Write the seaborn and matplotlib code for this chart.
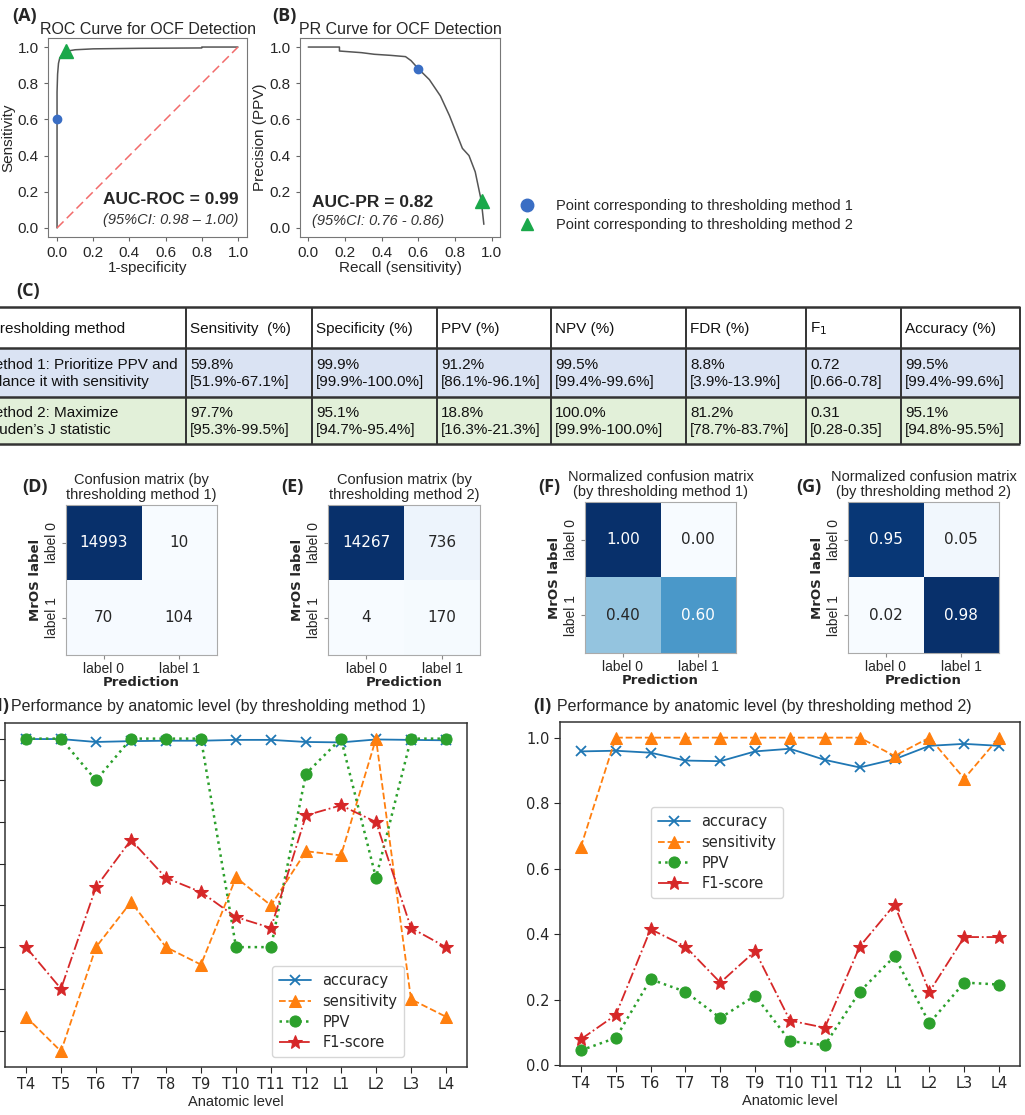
import numpy as np
import pandas as pd
import matplotlib
matplotlib.use('Agg')
import matplotlib.pyplot as plt
from matplotlib.lines import Line2D
from matplotlib.patches import Rectangle
import seaborn as sns

sns.set_style('ticks')
plt.rcParams['font.family'] = ['Liberation Sans', 'DejaVu Sans']

# ---- data ----
roc_fpr = [0.0, 0.0, 0.0, 0.003, 0.008, 0.015, 0.03, 0.05, 0.07, 0.1, 0.2, 0.45, 0.8, 0.8, 1.0]
roc_tpr = [0.0, 0.6, 0.75, 0.85, 0.91, 0.94, 0.96, 0.972, 0.98, 0.985, 0.99, 0.993, 0.995, 1.0, 1.0]
chance = [0.0, 1.0]
roc_pt1 = (0.0, 0.6)
roc_pt2 = (0.049, 0.977)

pr_recall = [0.0, 0.17, 0.17, 0.29, 0.36, 0.45, 0.53, 0.56, 0.60, 0.66, 0.72, 0.77, 0.805,
             0.84, 0.876, 0.91, 0.943, 0.957]
pr_prec = [1.0, 1.0, 0.978, 0.969, 0.96, 0.954, 0.947, 0.925, 0.88, 0.82, 0.73, 0.62, 0.53,
           0.44, 0.40, 0.31, 0.15, 0.02]
pr_pt1 = (0.60, 0.88)
pr_pt2 = (0.945, 0.15)

tab_header = ['Thresholding method', 'Sensitivity  (%)', 'Specificity (%)', 'PPV (%)',
              'NPV (%)', 'FDR (%)', 'F$_1$', 'Accuracy (%)']
tab_method1 = ['Method 1: Prioritize PPV and\nbalance it with sensitivity',
               '59.8%\n[51.9%-67.1%]', '99.9%\n[99.9%-100.0%]', '91.2%\n[86.1%-96.1%]',
               '99.5%\n[99.4%-99.6%]', '8.8%\n[3.9%-13.9%]', '0.72\n[0.66-0.78]',
               '99.5%\n[99.4%-99.6%]']
tab_method2 = ['Method 2: Maximize\nYouden\u2019s J statistic',
               '97.7%\n[95.3%-99.5%]', '95.1%\n[94.7%-95.4%]', '18.8%\n[16.3%-21.3%]',
               '100.0%\n[99.9%-100.0%]', '81.2%\n[78.7%-83.7%]', '0.31\n[0.28-0.35]',
               '95.1%\n[94.8%-95.5%]']

cm_labels = ['label 0', 'label 1']
cm_method1 = [[14993, 10], [70, 104]]
cm_method2 = [[14267, 736], [4, 170]]
cmn_method1 = [[1.00, 0.00], [0.40, 0.60]]
cmn_method2 = [[0.95, 0.05], [0.02, 0.98]]

levels = ['T4', 'T5', 'T6', 'T7', 'T8', 'T9', 'T10', 'T11', 'T12', 'L1', 'L2', 'L3', 'L4']
m1_accuracy = [0.999, 0.999, 0.992, 0.994, 0.995, 0.995, 0.997, 0.997, 0.992, 0.991, 0.998, 0.997, 0.996]
m1_sensitivity = [0.333, 0.25, 0.5, 0.608, 0.5, 0.458, 0.667, 0.6, 0.73, 0.72, 1.0, 0.375, 0.333]
m1_ppv = [1.0, 1.0, 0.9, 1.0, 1.0, 1.0, 0.5, 0.5, 0.916, 1.0, 0.666, 1.0, 1.0]
m1_f1 = [0.5, 0.4, 0.644, 0.757, 0.666, 0.632, 0.572, 0.546, 0.816, 0.84, 0.8, 0.546, 0.5]

m2_accuracy = [0.958, 0.960, 0.954, 0.930, 0.928, 0.958, 0.966, 0.932, 0.909, 0.934, 0.975, 0.981, 0.975]
m2_sensitivity = [0.667, 1.0, 1.0, 1.0, 1.0, 1.0, 1.0, 1.0, 1.0, 0.944, 1.0, 0.875, 1.0]
m2_ppv = [0.045, 0.083, 0.262, 0.224, 0.144, 0.212, 0.073, 0.061, 0.224, 0.332, 0.128, 0.252, 0.246]
m2_f1 = [0.079, 0.153, 0.415, 0.362, 0.252, 0.348, 0.136, 0.114, 0.362, 0.49, 0.224, 0.391, 0.391]

W, H = 1025, 1115
fig = plt.figure(figsize=(W / 100, H / 100), dpi=100)


def px_axes(l, t, r, b):
    return fig.add_axes([l / W, 1 - b / H, (r - l) / W, (b - t) / H])


def fig_text(x, y, s, **kw):
    fig.text(x / W, 1 - y / H, s, **kw)


LETTER = dict(family='Open Sans', weight='bold', fontsize=13)
BLUE_PT = '#3a6ec4'
GREEN_PT = '#1aa84a'

# ---- (A) ROC ----
ax = px_axes(48, 38, 247, 237)
sns.lineplot(x=roc_fpr, y=roc_tpr, sort=False, estimator=None, color='#555555', lw=1.1, ax=ax)
ax.plot(chance, chance, ls=(0, (6, 3)), color='#f26b6b', lw=1.1)
ax.plot(*roc_pt1, 'o', color=BLUE_PT, ms=6)
ax.plot(*roc_pt2, '^', color=GREEN_PT, ms=10)
ax.set_xlim(-0.05, 1.05)
ax.set_ylim(-0.05, 1.05)
ax.set_xticks(np.arange(0, 1.01, 0.2))
ax.set_yticks(np.arange(0, 1.01, 0.2))
ax.tick_params(labelsize=11, length=3, color='#666666')
ax.set_xlabel('1-specificity', fontsize=11, labelpad=1)
ax.set_ylabel('Sensitivity', fontsize=11, labelpad=2)
ax.set_title('ROC Curve for OCF Detection', fontsize=11.5, pad=3)
ax.text(0.955, 0.186, 'AUC-ROC = 0.99', transform=ax.transAxes, ha='right', va='center',
        fontsize=12.5, weight='bold')
ax.text(0.955, 0.085, '(95%CI: 0.98 \u2013 1.00)', transform=ax.transAxes, ha='right',
        va='center', fontsize=10.5, style='italic', color='#333333')
for s in ax.spines.values():
    s.set_color('#777777')
fig_text(12, 16, '(A)', va='center', **LETTER)

# ---- (B) PR ----
ax = px_axes(300, 38, 500, 237)
sns.lineplot(x=pr_recall, y=pr_prec, sort=False, estimator=None, color='#555555', lw=1.1, ax=ax)
ax.plot(*pr_pt1, 'o', color=BLUE_PT, ms=6)
ax.plot(*pr_pt2, '^', color=GREEN_PT, ms=10)
ax.set_xlim(-0.045, 1.045)
ax.set_ylim(-0.05, 1.05)
ax.set_xticks(np.arange(0, 1.01, 0.2))
ax.set_yticks(np.arange(0, 1.01, 0.2))
ax.tick_params(labelsize=11, length=3, color='#666666')
ax.set_xlabel('Recall (sensitivity)', fontsize=11, labelpad=1)
ax.set_ylabel('Precision (PPV)', fontsize=11, labelpad=2)
ax.set_title('PR Curve for OCF Detection', fontsize=11.5, pad=3)
ax.text(0.06, 0.175, 'AUC-PR = 0.82', transform=ax.transAxes, ha='left', va='center',
        fontsize=12.5, weight='bold')
ax.text(0.06, 0.08, '(95%CI: 0.76 - 0.86)', transform=ax.transAxes, ha='left',
        va='center', fontsize=10.5, style='italic', color='#333333')
for s in ax.spines.values():
    s.set_color('#777777')
fig_text(272, 16, '(B)', va='center', **LETTER)

# legend for the two points
handles = [Line2D([], [], ls='none', marker='o', color=BLUE_PT, ms=9),
           Line2D([], [], ls='none', marker='^', color=GREEN_PT, ms=9)]
fig.legend(handles, ['Point corresponding to thresholding method 1',
                     'Point corresponding to thresholding method 2'],
           loc='center left', bbox_to_anchor=(505 / W, 1 - 215.5 / H), frameon=False,
           fontsize=10.5, handlelength=1.2, handletextpad=1.4, labelspacing=0.35)

# ---- (C) table ----
fig_text(16, 291, '(C)', va='center', **LETTER)
tab = px_axes(0, 300, W, 450)
tab.set_xlim(0, W)
tab.set_ylim(450, 300)
tab.axis('off')
col_edges = [-40, 186, 312, 437, 551, 686, 806, 901, 1020]
row_edges = [307, 348, 397, 444]
row_fills = ['white', '#dae3f3', '#e2f0d9']
rows = [tab_header, tab_method1, tab_method2]
for i, row in enumerate(rows):
    y0, y1 = row_edges[i], row_edges[i + 1]
    tab.add_patch(Rectangle((col_edges[0], y0), col_edges[-1] - col_edges[0], y1 - y0,
                            facecolor=row_fills[i], edgecolor='none', clip_on=False))
    for j, cell in enumerate(row):
        x = -18 if j == 0 else col_edges[j] + 4
        tab.text(x, (y0 + y1) / 2 + 1, cell, ha='left', va='center', fontsize=11,
                 linespacing=1.2, color='#111111', clip_on=False)
tab.hlines(row_edges, col_edges[0], col_edges[-1], color='#333333', lw=1.8, clip_on=False)
tab.vlines(col_edges[1:], row_edges[0], row_edges[-1], color='#333333', lw=1.4, clip_on=False)

# ---- (D)-(G) confusion matrices ----
cm_specs = [
    ((66, 505, 217, 655), cm_method1, 'd', 'Confusion matrix (by\nthresholding method 1)', '(D)', 22),
    ((328, 505, 480, 655), cm_method2, 'd', 'Confusion matrix (by\nthresholding method 2)', '(E)', 281),
    ((585, 502, 736, 653), cmn_method1, '.2f', 'Normalized confusion matrix\n(by thresholding method 1)', '(F)', 538),
    ((848, 502, 999, 653), cmn_method2, '.2f', 'Normalized confusion matrix\n(by thresholding method 2)', '(G)', 796),
]
for box, mat, fmt, title, letter, lx in cm_specs:
    ax = px_axes(*box)
    df = pd.DataFrame(mat, index=cm_labels, columns=cm_labels)
    sns.heatmap(df, annot=True, fmt=fmt, cmap='Blues', cbar=False, ax=ax,
                annot_kws={'size': 11, 'family': 'DejaVu Sans'})
    for s in ax.spines.values():
        s.set_visible(True)
        s.set_color('#aaaaaa')
    ax.set_yticklabels(cm_labels, rotation=90, va='center', fontsize=10)
    ax.set_xticklabels(cm_labels, rotation=0, fontsize=10)
    ax.tick_params(length=3, color='#888888', pad=2)
    ax.set_ylabel('MrOS label', fontsize=9.5, weight='bold', family='DejaVu Sans', labelpad=2)
    ax.set_xlabel('Prediction', fontsize=9.5, weight='bold', family='DejaVu Sans', labelpad=0)
    ax.set_title(title, fontsize=10.5, pad=4, linespacing=1.1)
    fig_text(lx, 487, letter, va='center', **LETTER)

# ---- (H), (I) performance by anatomic level ----
def perf_panel(box, acc, sens, ppv, f1, legend_anchor):
    ax = px_axes(*box)
    sns.lineplot(x=levels, y=acc, sort=False, color='#1f77b4', marker='x', ms=7,
                 mew=1.3, lw=1.3, label='accuracy', ax=ax)
    sns.lineplot(x=levels, y=sens, sort=False, color='#ff7f0e', marker='^', ms=9,
                 lw=1.3, ls='--', label='sensitivity', ax=ax)
    sns.lineplot(x=levels, y=ppv, sort=False, color='#2ca02c', marker='o', ms=8,
                 lw=1.8, ls=':', label='PPV', ax=ax)
    sns.lineplot(x=levels, y=f1, sort=False, color='#d62728', marker='*', ms=10,
                 lw=1.3, ls='-.', label='F1-score', ax=ax)
    for ln in ax.lines:
        ln.set_markeredgecolor(ln.get_color())
    ax.tick_params(labelsize=10.5, length=4)
    for lab in ax.get_xticklabels() + ax.get_yticklabels():
        lab.set_family('DejaVu Sans')
    ax.set_xlabel('Anatomic level', fontsize=10.5, labelpad=2)
    ax.set_ylabel('')
    for s in ax.spines.values():
        s.set_color('#333333')
        s.set_linewidth(1.1)
    ax.legend(loc='upper left', bbox_to_anchor=legend_anchor,
              prop={'family': 'DejaVu Sans', 'size': 10.5}, handlelength=2.2,
              borderpad=0.45, labelspacing=0.4)
    return ax


axh = perf_panel((5, 723, 467, 1067), m1_accuracy, m1_sensitivity, m1_ppv, m1_f1,
                 ((265 - 5) / 462, (1067 - 959) / 344))
axh.set_yticks(np.arange(0.3, 1.01, 0.1))
fig_text(9, 706, '(H)', ha='right', va='center', **LETTER)
fig_text(11, 706, 'Performance by anatomic level (by thresholding method 1)', ha='left',
         va='center', fontsize=11.5)

axi = perf_panel((560, 722, 1020, 1066), m2_accuracy, m2_sensitivity, m2_ppv, m2_f1,
                 ((644 - 560) / 460, (1066 - 800) / 344))
axi.set_yticks(np.arange(0, 1.01, 0.2))
axi.yaxis.set_major_formatter(plt.FormatStrFormatter('%.1f'))
for lab in axi.get_yticklabels():
    lab.set_family('DejaVu Sans')
fig_text(533, 706, '(I)', ha='left', va='center', **LETTER)
fig_text(557, 706, 'Performance by anatomic level (by thresholding method 2)', ha='left',
         va='center', fontsize=11.5)

fig.savefig('out.png', dpi=100)
